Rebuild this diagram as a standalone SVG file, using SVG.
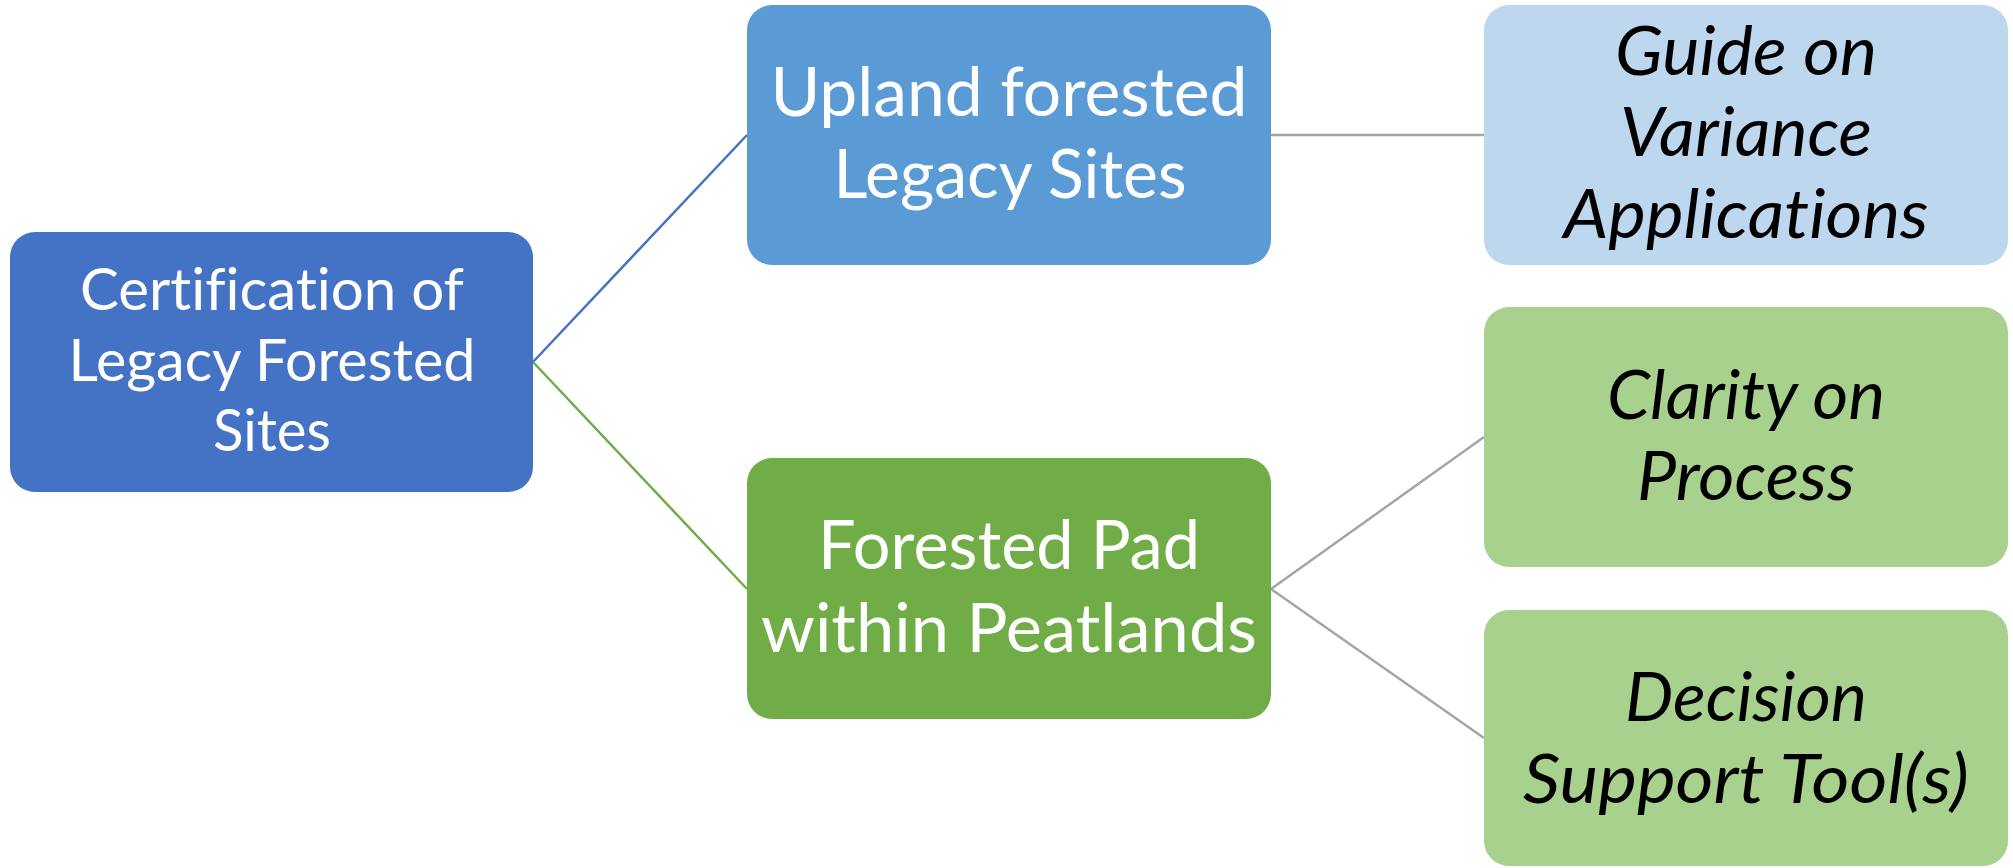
<svg xmlns="http://www.w3.org/2000/svg" width="2013" height="868" viewBox="0 0 2013 868">
<style>
.box{stroke:none}
.w{font-family:Lato,"Open Sans","Liberation Sans",sans-serif;fill:#FFFFFF;text-anchor:middle;font-variant-ligatures:none}
.k{font-family:Lato,"Open Sans","Liberation Sans",sans-serif;fill:#000000;text-anchor:middle;font-style:italic;font-size:67px;font-variant-ligatures:none}
.c{fill:none;stroke-width:2.5}
</style>
<rect width="2013" height="868" fill="#FFFFFF"/>
<g id="connectors">
<line class="c" x1="533" y1="362" x2="747" y2="135" stroke="#4472C4"/>
<line class="c" x1="533" y1="362" x2="747" y2="589" stroke="#70AD47"/>
<line class="c" x1="1271" y1="135" x2="1484" y2="135" stroke="#A5A5A5"/>
<line class="c" x1="1271" y1="589" x2="1484" y2="437" stroke="#A5A5A5"/>
<line class="c" x1="1271" y1="589" x2="1484" y2="738" stroke="#A5A5A5"/>
</g>
<g id="root">
<rect class="box" x="10" y="232" width="523" height="260" rx="25" fill="#4472C4"/>
<text class="w" font-size="58" x="272" y="310" textLength="384" lengthAdjust="spacingAndGlyphs">Certification of</text>
<text class="w" font-size="58" x="272" y="381" textLength="407" lengthAdjust="spacingAndGlyphs">Legacy Forested</text>
<text class="w" font-size="58" x="272" y="451" textLength="118" lengthAdjust="spacingAndGlyphs">Sites</text>
</g>
<g id="upland">
<rect class="box" x="747" y="5" width="524" height="260" rx="25" fill="#5B9BD5"/>
<text class="w" font-size="67" x="1009" y="116" textLength="477" lengthAdjust="spacingAndGlyphs">Upland forested</text>
<text class="w" font-size="67" x="1010" y="198" textLength="353" lengthAdjust="spacingAndGlyphs">Legacy Sites</text>
</g>
<g id="pad">
<rect class="box" x="747" y="458" width="524" height="261" rx="25" fill="#70AD47"/>
<text class="w" font-size="67" x="1009" y="569" textLength="382" lengthAdjust="spacingAndGlyphs">Forested Pad</text>
<text class="w" font-size="67" x="1009" y="652" textLength="496" lengthAdjust="spacingAndGlyphs">within Peatlands</text>
</g>
<g id="guide">
<rect class="box" x="1484" y="5" width="524" height="260" rx="25" fill="#BDD7EE"/>
<text class="k" x="1746" y="75" textLength="262" lengthAdjust="spacingAndGlyphs">Guide on</text>
<text class="k" x="1746" y="156" textLength="252" lengthAdjust="spacingAndGlyphs">Variance</text>
<text class="k" x="1746" y="238" textLength="365" lengthAdjust="spacingAndGlyphs">Applications</text>
</g>
<g id="clarity">
<rect class="box" x="1484" y="307" width="524" height="260" rx="25" fill="#A9D18E"/>
<text class="k" x="1746" y="419" textLength="278" lengthAdjust="spacingAndGlyphs">Clarity on</text>
<text class="k" x="1746" y="500" textLength="218" lengthAdjust="spacingAndGlyphs">Process</text>
</g>
<g id="decision">
<rect class="box" x="1484" y="610" width="524" height="256" rx="25" fill="#A9D18E"/>
<text class="k" x="1746" y="721" textLength="242" lengthAdjust="spacingAndGlyphs">Decision</text>
<text class="k" x="1746" y="803" textLength="446" lengthAdjust="spacingAndGlyphs">Support Tool(s)</text>
</g>
</svg>
